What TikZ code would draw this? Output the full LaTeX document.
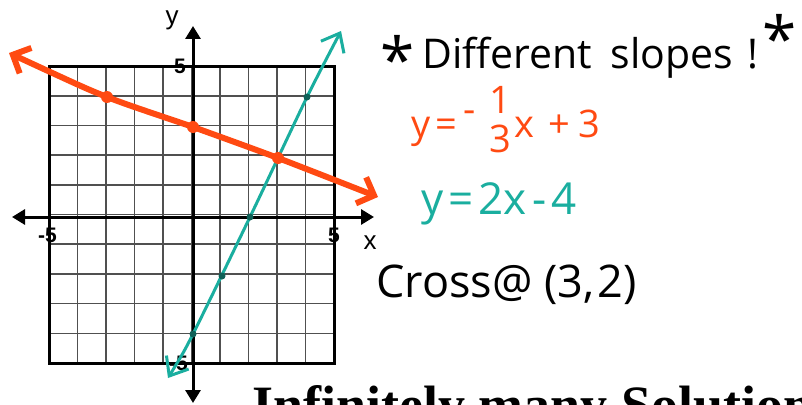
\documentclass[tikz,border=0pt]{standalone}
\usepackage{fontspec}
\setmainfont{Liberation Sans}
\newfontfamily\handfont{Open Sans}
\newfontfamily\titlefont{Liberation Serif}
\usetikzlibrary{arrows.meta}
\definecolor{orng}{HTML}{FF4A12}
\definecolor{tealc}{HTML}{1AAE9F}
\definecolor{tealdot}{HTML}{0F6158}
\definecolor{gridc}{HTML}{505050}
\newcommand\handast[1]{\raisebox{#1}{\fontsize{62}{62}\selectfont *}}
\newcommand\stackfrac[2]{\makebox[22pt][c]{\raisebox{24pt}{#1}}\hspace{-22pt}\makebox[22pt][c]{\raisebox{-15pt}{#2}}}
\begin{document}
\begin{tikzpicture}[x=1pt,y=-1pt,
  gridline/.style={draw=gridc,line width=1.6pt},
  framebox/.style={draw=black,line width=3pt},
  axisline/.style={draw=black,line width=3pt,{Triangle[length=13pt,width=15pt]}-{Triangle[length=13pt,width=15pt]}},
  ticklbl/.style={font=\bfseries\fontsize{21}{21}\selectfont,inner sep=0pt},
  axlbl/.style={font=\fontsize{26}{26}\selectfont,inner sep=0pt},
  orangeline/.style={draw=orng,line width=6pt,line cap=round,line join=round,{Straight Barb[length=14pt,width=28pt]}-{Straight Barb[length=14pt,width=28pt]}},
  tealline/.style={draw=tealc,line width=3pt,line cap=round,line join=round,{Straight Barb[length=16pt,width=26pt]}-{Straight Barb[length=16pt,width=26pt]}},
  odot/.style={circle,fill=orng,inner sep=0pt,minimum size=12pt},
  tdot/.style={circle,fill=tealdot,inner sep=0pt,minimum size=7pt},
  handtext/.style={anchor=base west,inner sep=0pt}
]
\useasboundingbox (0,0) rectangle (802,404);
\clip (0,0) rectangle (802,404);
\fill[white] (0,0) rectangle (802,404);
% grid
\foreach \i in {1,...,9} {
  \draw[gridline] ({49+28.5*\i},66) -- ({49+28.5*\i},363);
  \draw[gridline] (49,{66+29.7*\i}) -- (334,{66+29.7*\i});
}
\draw[framebox] (49,66) rectangle (334,363);
% axes
\coordinate (xL) at (12,217);
\coordinate (xR) at (374,217);
\coordinate (yT) at (193,26);
\coordinate (yB) at (193,403);
\draw[axisline] (xL) -- (xR);
\draw[axisline] (yB) -- (yT);
% tick labels
\node[ticklbl] (t5y) at (180,66) {5};
\node[ticklbl,anchor=east] (tm5y) at (188,363) {-5};
\node[ticklbl,anchor=east] (tm5x) at (57,235) {-5};
\node[ticklbl] (t5x) at (334,235) {5};
\node[axlbl] (xlab) at (370,243) {x};
\node[axlbl] (ylab) at (172,20) {y};
% teal line y=2x-4
\coordinate (tB) at (168,378);
\coordinate (t1) at (193,334);
\coordinate (t2) at (250,217);
\coordinate (t3) at (307,97);
\coordinate (tT) at (341,31);
\draw[tealline] plot[smooth,tension=0.4] coordinates {(tB) (t1) (t2) (t3) (tT)};
\node[tdot] (d1) at (t1) {};
\node[tdot] (d2) at (222,276) {};
\node[tdot] (d3) at (t2) {};
\node[tdot] (d4) at (t3) {};
% orange line y=-x/3+3
\coordinate (oL) at (9,53);
\coordinate (o1) at (107,97);
\coordinate (o2) at (193,127);
\coordinate (o3) at (278,158);
\coordinate (oR) at (378,197);
\draw[orangeline] plot[smooth,tension=0.4] coordinates {(oL) (o1) (o2) (o3) (oR)};
\node[odot] (p1) at (o1) {};
\node[odot] (p2) at (o2) {};
\node[odot] (p3) at (o3) {};
% texts
\node[handtext,text=black,font=\handfont\fontsize{41}{41}\selectfont] (slopes) at (380,68)
  {\handast{-14pt}\hspace{8pt}Different\hspace{8pt} slopes\hspace{14pt}!\hspace{4pt}\handast{7pt}};
\node[handtext,text=orng,font=\handfont\fontsize{38}{38}\selectfont] (eqo) at (411,137)
  {y\hspace{5pt}=\hspace{6pt}\raisebox{15pt}{-}\hspace{14pt}\stackfrac{1}{3}\hspace{3pt}x\hspace{14pt}+\hspace{9pt}3};
\node[handtext,text=tealc,font=\handfont\fontsize{44}{44}\selectfont] (eqt) at (421,214)
  {y\hspace{5pt}=\hspace{5pt}2x\hspace{6pt}-\hspace{5pt}4};
\node[handtext,text=black,font=\handfont\fontsize{45}{45}\selectfont] (cross) at (376,297)
  {Cross@\hspace{12pt}(3,\hspace{3pt}2)};
\node[anchor=base west,inner sep=0pt,font=\titlefont\bfseries\fontsize{54}{54}\selectfont] (title) at (252,423) {Infinitely many Solutions};
\end{tikzpicture}
\end{document}
